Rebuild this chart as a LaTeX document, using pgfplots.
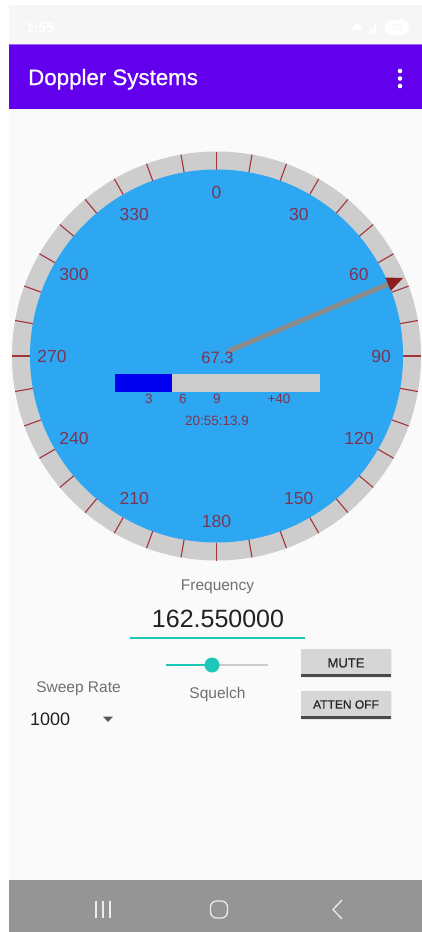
\documentclass[border=0pt]{standalone}
\usepackage{pgfplots}
\pgfplotsset{compat=1.18}
\usepackage{pgfplotstable}
\usepackage{fontspec}
\setmainfont{Liberation Sans}
\newfontfamily\mediumfont[FakeBold=0.7]{Liberation Sans}
\usetikzlibrary{arrows.meta}
\definecolor{appbg}{HTML}{FAFAFA}
\definecolor{statusbg}{HTML}{F6F6F6}
\definecolor{appbar}{HTML}{6200EE}
\definecolor{navbg}{HTML}{959595}
\definecolor{navicon}{HTML}{ECECEC}
\definecolor{ringgray}{HTML}{CDCDCD}
\definecolor{dialblue}{HTML}{2EA7F3}
\definecolor{tickred}{HTML}{A2343A}
\definecolor{dialtxt}{HTML}{7D3452}
\definecolor{needlegray}{HTML}{8C8C8C}
\definecolor{arrowred}{HTML}{8E1E1E}
\definecolor{meterblue}{HTML}{0000EE}
\definecolor{metergray}{HTML}{CCCCCC}
\definecolor{tealc}{HTML}{1DC8B9}
\definecolor{labelgray}{HTML}{707070}
\definecolor{btnfill}{HTML}{D6D6D6}
\definecolor{btnline}{HTML}{4A4A4A}
\newcommand\fs[1]{\fontsize{#1}{#1}\selectfont}

% needle: heading in degrees, radii along the needle
\pgfplotstableread{
deg r
67.3 12
67.3 203
}\needletab
% signal meter: filled part (pixel coords of the bar)
\pgfplotstableread{
x y
115 374
172 374
172 392
115 392
}\metertab

\begin{document}
\begin{tikzpicture}
\begin{axis}[width=422pt,height=932pt,scale only axis,
  xmin=0,xmax=422,ymin=0,ymax=932,y dir=reverse,hide axis,clip=false]
% backgrounds
\fill[white] (0,0) rectangle (422,932);
\fill[appbg] (9,5) rectangle (422,880);
\fill[statusbg] (9,5) rectangle (422,44);
\fill[appbar] (9,44) rectangle (422,109);
\fill[appbar!60!white] (9,44) rectangle (422,45);
\fill[navbg] (9,880) rectangle (422,932);
% status bar (faint white)
\node[anchor=west,inner sep=0,text=white,font=\fs{14}\bfseries] at (26,28) {1:55};
\fill[white,rounded corners=7pt] (385,20) rectangle (409,35);
\node[inner sep=0,text=statusbg,font=\fs{9}\bfseries] at (397,27.5) {53};
\fill[white] (351,30) -- (357,23) -- (363,30) -- cycle;
\fill[white] (370,34) rectangle (372,27);
\fill[white] (374,34) rectangle (376,24);
% app bar
\node[anchor=base west,inner sep=0,text=white,font=\mediumfont\fs{22.3}] at (28,85) {Doppler Systems};
\fill[white] (400,71) circle[radius=2.3pt];
\fill[white] (400,78.5) circle[radius=2.3pt];
\fill[white] (400,86) circle[radius=2.3pt];
% dial
\fill[ringgray] (216.5,356) circle[radius=204.5pt];
\fill[dialblue] (216.5,356) circle[radius=186.5pt];
\pgfplotsinvokeforeach{0,10,...,350}{
  \draw[tickred,line width=1.1pt] ({216.5+186.5*sin(#1)},{356-186.5*cos(#1)}) -- ({216.5+204.5*sin(#1)},{356-204.5*cos(#1)});
}
\pgfplotsinvokeforeach{0,30,...,330}{
  \node[inner sep=0,text=dialtxt,font=\fs{17.5}] at ({216.5+164.5*sin(#1)},{356.5-164.5*cos(#1)}) {#1};
}
% needle
\addplot[needlegray,line width=5pt,
  -{Triangle[length=17pt,width=13pt,color=arrowred,fill=arrowred]}]
  table[x expr={216.5+\thisrow{r}*sin(\thisrow{deg})},
        y expr={356-\thisrow{r}*cos(\thisrow{deg})}] {\needletab};
\node[inner sep=0,text=dialtxt,font=\fs{16.5}] at (217.5,358) {67.3};
% meter
\fill[metergray] (115,374) rectangle (320,392);
\addplot[fill=meterblue,draw=none] table {\metertab} -- cycle;
\node[inner sep=0,text=dialtxt,font=\fs{13.5}] at (149,399) {3};
\node[inner sep=0,text=dialtxt,font=\fs{13.5}] at (183,399) {6};
\node[inner sep=0,text=dialtxt,font=\fs{13.5}] at (217,399) {9};
\node[inner sep=0,text=dialtxt,font=\fs{13.5}] at (279,399) {+40};
\node[inner sep=0,text=dialtxt,font=\fs{13.5}] at (217,421) {20:55:13.9};
% frequency
\node[inner sep=0,text=labelgray,font=\fs{15.5}] at (217.5,587) {Frequency};
\node[inner sep=0,text=black!87,font=\fs{25}] at (218,619) {162.550000};
\draw[tealc,line width=2.5pt] (130,638) -- (305,638);
% squelch slider
\draw[black!20,line width=1.2pt] (212,665) -- (268,665);
\draw[tealc,line width=2.2pt] (166,665) -- (212,665);
\fill[tealc] (212,665) circle[radius=7.5pt];
\node[inner sep=0,text=labelgray,font=\fs{15.5}] at (217.5,694) {Squelch};
% sweep rate
\node[inner sep=0,text=labelgray,font=\fs{15.5}] at (78.5,689) {Sweep Rate};
\node[anchor=west,inner sep=0,text=black!87,font=\fs{18}] at (30,719) {1000};
\fill[black!65] (103,716.5) -- (113,716.5) -- (108,722) -- cycle;
% buttons
\fill[black!8] (301,650) rectangle (392,678);
\fill[btnfill] (301,649) rectangle (391,675);
\fill[btnline] (301,674) rectangle (391,676.5);
\node[inner sep=0,text=black!85,font=\mediumfont\fs{13}] at (346,663) {MUTE};
\fill[black!8] (301,692) rectangle (392,720);
\fill[btnfill] (301,691) rectangle (391,717);
\fill[btnline] (301,716) rectangle (391,718.5);
\node[inner sep=0,text=black!85,font=\mediumfont\fs{12}] at (346,704.5) {ATTEN OFF};
% nav bar icons
\draw[navicon,line width=1.3pt] (96,901) -- (96,918);
\draw[navicon,line width=1.3pt] (103,901) -- (103,918);
\draw[navicon,line width=1.3pt] (110,901) -- (110,918);
\draw[navicon,line width=1.3pt,rounded corners=6pt] (210.5,901) rectangle (227.5,918);
\draw[navicon,line width=1.3pt] (342,900) -- (333,909.5) -- (342,919);
\end{axis}
\end{tikzpicture}
\end{document}
